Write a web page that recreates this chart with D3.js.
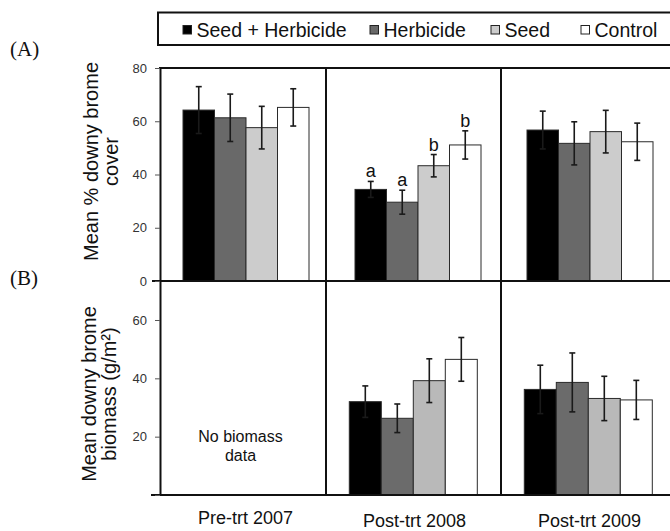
<!DOCTYPE html>
<html>
<head>
<meta charset="utf-8">
<script src="https://cdn.jsdelivr.net/npm/d3@7"></script>
<style>
  html, body { margin: 0; padding: 0; background: #fff; }
  svg { display: block; }
  text { font-family: "Liberation Sans", Arial, sans-serif; }
</style>
</head>
<body>
<svg id="chart" width="670" height="531"></svg>
<script>
// ---- data ----
const years = ["Pre-trt 2007", "Post-trt 2008", "Post-trt 2009"];
const treatments = ["Seed + Herbicide", "Herbicide", "Seed", "Control"];
const coverMean = [[64.2, 61.3, 57.6, 65.2], [34.4, 29.6, 43.3, 51.1], [56.7, 51.7, 56.1, 52.3]];
const coverErr  = [[8.8, 8.9, 8.0, 7.0], [3.0, 4.5, 4.2, 5.3], [7.1, 8.1, 8.0, 7.0]];
const coverLetters = [null, ["a", "a", "b", "b"], null];
const biomassMean = [null, [32.0, 26.3, 39.2, 46.5], [36.2, 38.6, 33.1, 32.6]];
const biomassErr  = [null, [5.4, 4.9, 7.5, 7.5], [8.3, 10.1, 7.6, 6.7]];
const coverTicks = [0, 20, 40, 60, 80];
const biomassTicks = [0, 20, 40, 60];
const coverTitle = ["Mean % downy brome", "cover"];
const biomassTitle = ["Mean downy brome", "biomass (g/m²)"];
const noDataText = ["No biomass", "data"];

// ---- styles ----
const topColors = ["#000000", "#696969", "#cccccc", "#ffffff"];
const botColors = ["#000000", "#6b6b6b", "#b9b9b9", "#ffffff"];
const serif = "'Liberation Serif', 'Times New Roman', serif";

const svg = d3.select("#chart");

// scales
const xTop = d3.scaleBand().domain(years).range([160, 676]);
const xBot = d3.scaleBand().domain(years).range([151, 676]);
const innerTop = d3.scaleBand().domain(treatments).range([23, 149]);
const innerBot = d3.scaleBand().domain(treatments).range([23.3, 151.3]);
const yTop = d3.scaleLinear().domain([0, 80]).range([281, 68]);
const yBot = d3.scaleLinear().domain([0, 73.37]).range([495, 281]);

// ---- bars ----
function drawPanel(xs, inner, y, means, errs, colors, letters) {
  years.forEach((yr, i) => {
    if (!means[i]) return;
    const g = svg.append("g").attr("transform", `translate(${xs(yr)},0)`);
    treatments.forEach((t, j) => {
      const v = means[i][j], e = errs[i][j];
      const x0 = inner(t), w = inner.bandwidth(), cx = x0 + w / 2;
      g.append("rect")
        .attr("x", x0).attr("y", y(v))
        .attr("width", w).attr("height", y(0) - y(v))
        .attr("fill", colors[j]).attr("stroke", "#2a2a2a").attr("stroke-width", 1);
      const eb = g.append("g").attr("stroke", "#1a1a1a").attr("stroke-width", 1.6);
      eb.append("line").attr("x1", cx).attr("x2", cx).attr("y1", y(v + e)).attr("y2", y(v - e));
      eb.append("line").attr("x1", cx - 3).attr("x2", cx + 3).attr("y1", y(v + e)).attr("y2", y(v + e));
      eb.append("line").attr("x1", cx - 3).attr("x2", cx + 3).attr("y1", y(v - e)).attr("y2", y(v - e));
      if (letters && letters[i]) {
        g.append("text").attr("x", cx).attr("y", y(v + e) - 4)
          .attr("text-anchor", "middle").attr("font-size", 18).attr("fill", "#111")
          .text(letters[i][j]);
      }
    });
  });
}
drawPanel(xTop, innerTop, yTop, coverMean, coverErr, topColors, coverLetters);
drawPanel(xBot, innerBot, yBot, biomassMean, biomassErr, botColors, null);

// ---- frame ----
const frame = svg.append("g").attr("stroke", "#111").attr("stroke-width", 2);
frame.append("line").attr("x1", 159).attr("x2", 670).attr("y1", yTop(80)).attr("y2", yTop(80));
frame.append("line").attr("x1", 152).attr("x2", 670).attr("y1", yTop(0)).attr("y2", yTop(0));
frame.append("line").attr("x1", 151).attr("x2", 670).attr("y1", yBot(0)).attr("y2", yBot(0));
years.slice(1).forEach(yr => {
  const xd = xBot(yr);
  frame.append("line").attr("x1", xd).attr("x2", xd).attr("y1", yTop(80)).attr("y2", yBot(0));
});

// ---- axes ----
function styleAxis(g) {
  g.select(".domain").attr("stroke", "#111").attr("stroke-width", 2);
  g.selectAll(".tick line").attr("stroke", "#555").attr("stroke-width", 1);
  g.selectAll(".tick text").attr("font-size", 13).attr("fill", "#333");
}
svg.append("g").attr("transform", "translate(160,0)")
  .call(d3.axisLeft(yTop).tickValues(coverTicks).tickSize(5).tickSizeOuter(0).tickPadding(8))
  .call(styleAxis);
svg.append("g").attr("transform", "translate(160,0)")
  .call(d3.axisLeft(yBot).tickValues(biomassTicks).tickSize(5).tickSizeOuter(0).tickPadding(8)
    .tickFormat(d => d === 0 ? "" : d))
  .call(styleAxis);

// ---- axis titles ----
function yTitle(lines, cx, cy) {
  const t = svg.append("text")
    .attr("transform", `translate(${cx},${cy}) rotate(-90)`)
    .attr("text-anchor", "middle").attr("font-size", 20).attr("fill", "#111");
  lines.forEach((l, k) => t.append("tspan").attr("x", 0).attr("y", k * 20).text(l));
}
yTitle(coverTitle, 98, 161.5);
yTitle(biomassTitle, 96, 394);

// ---- category labels ----
years.forEach((yr, i) => {
  svg.append("text")
    .attr("x", xBot(yr) + xBot.bandwidth() / 2 + (i === 0 ? 7 : 1))
    .attr("y", i === 0 ? 524 : 527)
    .attr("text-anchor", "middle").attr("font-size", 18).attr("fill", "#111")
    .text(yr);
});

// no-data note
const nd = svg.append("text").attr("text-anchor", "middle").attr("font-size", 16).attr("fill", "#111");
noDataText.forEach((l, k) => nd.append("tspan")
  .attr("x", xBot(years[0]) + xBot.bandwidth() / 2 + 2).attr("y", 442 + k * 19).text(l));

// ---- panel letters ----
svg.append("text").attr("x", 10).attr("y", 56).attr("font-size", 21)
  .style("font-family", serif).attr("fill", "#111").text("(A)");
svg.append("text").attr("x", 10).attr("y", 285).attr("font-size", 21)
  .style("font-family", serif).attr("fill", "#111").text("(B)");

// ---- legend ----
const leg = svg.append("g");
leg.append("rect").attr("x", 158).attr("y", 12.5).attr("width", 530).attr("height", 32.5)
  .attr("fill", "none").attr("stroke", "#111").attr("stroke-width", 2);
const legX = [183, 370, 491, 581];
treatments.forEach((t, j) => {
  leg.append("rect").attr("x", legX[j]).attr("y", 25.5).attr("width", 8.5).attr("height", 8.5)
    .attr("fill", topColors[j]).attr("stroke", "#222").attr("stroke-width", 1);
  leg.append("text").attr("x", legX[j] + 13.5).attr("y", 36.5)
    .attr("font-size", 19.5).attr("fill", "#111").text(t);
});
</script>
</body>
</html>
